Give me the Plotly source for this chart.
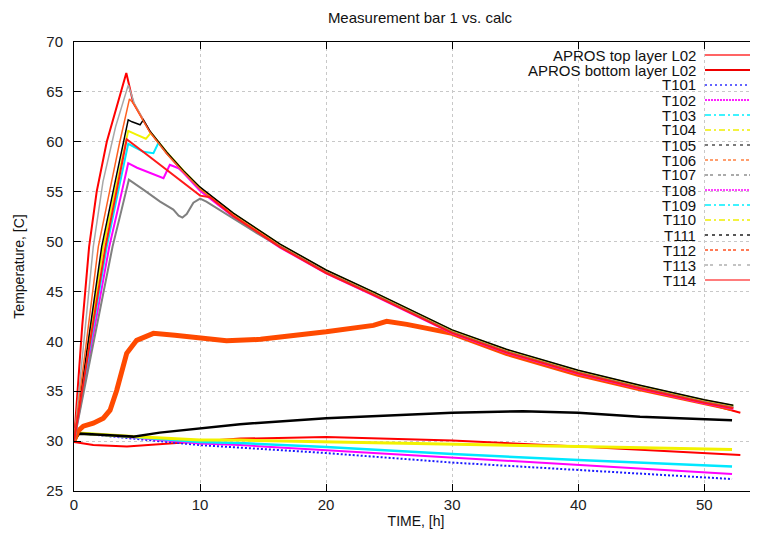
import plotly.graph_objects as go

# ---------------- data ----------------
APROS_TOP_X = [0, 0.65, 1.2, 1.8, 2.6, 3.6, 4.15, 4.7, 5.5, 6.03, 7.36, 8.68, 10, 12.64, 16.35, 20, 23.75, 30, 34.3, 40, 44.9, 50, 52.86]
APROS_TOP_Y = [30.0, 41.5, 49.5, 55.0, 60.0, 64.5, 66.9, 63.9, 62.2, 61.0, 58.85, 57.0, 55.3, 52.7, 49.6, 47.0, 44.8, 41.0, 39.05, 36.95, 35.4, 33.85, 32.85]

APROS_BOT_X = [0, 1.53, 4.2, 6.8, 10, 13.2, 20, 30, 40, 44.9, 52.86]
APROS_BOT_Y = [29.9, 29.6, 29.45, 29.7, 29.95, 30.25, 30.4, 30.05, 29.45, 29.1, 28.6]

LOW_X = [0, 0.4, 4.7, 10, 13.17, 20, 30, 40, 52.2]
T101_Y = [30.0, 30.8, 30.25, 29.6, 29.35, 28.8, 27.85, 27.1, 26.2]
T102_Y = [30.0, 30.8, 30.35, 29.75, 29.6, 29.1, 28.3, 27.6, 26.7]
T103_Y = [30.0, 30.8, 30.4, 29.9, 29.8, 29.4, 28.7, 28.1, 27.45]
T104_Y = [30.0, 30.8, 30.45, 30.1, 30.1, 29.95, 29.7, 29.45, 29.15]

T105_X = [0, 0.4, 2.5, 4.7, 6.8, 10, 13.17, 20, 25, 30, 35.6, 40, 44.9, 52.2]
T105_Y = [30.0, 30.75, 30.6, 30.45, 30.85, 31.3, 31.7, 32.3, 32.6, 32.85, 33.0, 32.85, 32.45, 32.1]

T106_X = [0, 0.3, 0.74, 1.53, 2.33, 2.86, 3.39, 3.78, 4.18, 4.97, 6.3, 8, 9.5, 12.1, 14.8, 17, 20, 23.75, 24.8, 26.4, 28, 30, 34.3, 40, 44.9, 50, 52.2]
T106_Y = [30.0, 31.0, 31.5, 31.8, 32.3, 33.1, 35.1, 37.1, 38.8, 40.1, 40.8, 40.6, 40.4, 40.05, 40.2, 40.5, 40.95, 41.6, 42.0, 41.7, 41.3, 40.8, 38.8, 36.7, 35.25, 33.8, 33.25]

# common tail of the upper bundle
TAIL_X = [12.64, 16.35, 20, 23.75, 30, 34.3, 40, 44.9, 50, 52.3]

T107_X = [0, 1.53, 2.3, 3.3, 4.31, 4.8, 5.5, 6.03, 7.36, 8.68, 10] + TAIL_X
T107_Y = [30.0, 49.5, 56.0, 61.5, 65.7, 63.8, 62.2, 61.0, 58.85, 57.0, 55.3,
          52.75, 49.65, 47.05, 44.85, 41.05, 39.1, 37.0, 35.5, 34.05, 33.5]

T108_X = [0, 2.8, 3.6, 4.3, 5.0, 6.0, 7.1, 7.6, 8.3, 8.68, 10] + TAIL_X
T108_Y = [30.0, 49.5, 53.9, 57.85, 57.4, 56.9, 56.35, 57.7, 57.35, 56.9, 55.1,
          52.5, 49.4, 46.8, 44.6, 40.8, 38.85, 36.75, 35.25, 33.8, 33.25]

T109_X = [0, 2.6, 3.5, 4.3, 5.5, 6.3, 6.7, 7.36, 8.68, 10] + TAIL_X
T109_Y = [30.0, 49.5, 55.0, 59.8, 59.0, 58.85, 59.9, 58.9, 57.05, 55.35,
          52.75, 49.65, 47.05, 44.85, 41.05, 39.1, 37.0, 35.5, 34.05, 33.5]

T110_X = [0, 2.33, 3.3, 4.3, 5.0, 5.7, 6.1, 7.36, 8.68, 10] + TAIL_X
T110_Y = [30.0, 49.5, 55.3, 61.1, 60.7, 60.3, 60.9, 58.95, 57.1, 55.4,
          52.8, 49.7, 47.1, 44.9, 41.1, 39.15, 37.05, 35.55, 34.1, 33.55]

T111_X = [0, 2.2, 3.2, 4.3, 4.6, 5.0, 5.24, 5.5, 6.03, 7.36, 8.68, 10] + TAIL_X
T111_Y = [30.0, 49.5, 55.6, 62.2, 62.0, 61.8, 61.7, 62.2, 61.05, 58.95, 57.1, 55.45,
          52.85, 49.75, 47.15, 44.95, 41.15, 39.2, 37.1, 35.6, 34.15, 33.6]

T112_X = [0, 1.93, 2.9, 3.6, 4.4, 4.8, 5.5, 6.03, 7.36, 8.68, 10] + TAIL_X
T112_Y = [30.0, 49.5, 55.5, 59.8, 64.3, 63.7, 62.1, 60.95, 58.8, 56.95, 55.25,
          52.65, 49.55, 46.95, 44.75, 40.95, 39.0, 36.9, 35.4, 33.95, 33.4]

T113_X = [0, 3.06, 3.7, 4.35, 5.5, 6.83, 7.88, 8.3, 8.6, 8.94, 9.47, 10, 10.5, 12.64, 14.5, 16.35, 20, 23.75, 30, 34.3, 40, 44.9, 50, 52.3]
T113_Y = [30.0, 49.5, 52.8, 56.2, 55.2, 54.0, 53.2, 52.6, 52.4, 52.75, 53.9, 54.3, 54.0, 52.3, 50.85, 49.5,
          46.9, 44.7, 40.9, 38.95, 36.85, 35.35, 33.9, 33.35]

T114_X = [0, 2.5, 3.4, 4.18, 6.0, 8.0, 10.0, 10.8] + TAIL_X
T114_Y = [30.0, 49.5, 55.2, 60.25, 58.5, 56.55, 54.6, 54.45,
          52.55, 49.45, 46.85, 44.65, 40.85, 38.9, 36.8, 35.3, 33.85, 33.3]

X_TICKS = [0, 10, 20, 30, 40, 50]
Y_TICKS = [25, 30, 35, 40, 45, 50, 55, 60, 65, 70]

# ---------------- series definitions ----------------
series = [
    ("APROS top layer L02", APROS_TOP_X, APROS_TOP_Y, "#ff0000", 2.0, "solid", "#ff3030", 1.5, "solid"),
    ("APROS bottom layer L02", APROS_BOT_X, APROS_BOT_Y, "#ff0000", 2.0, "solid", "#ee0000", 2.0, "solid"),
    ("T101", LOW_X, T101_Y, "#1a1aff", 2.0, "2px,2px", "#3030ff", 1.5, "2px,3px"),
    ("T102", LOW_X, T102_Y, "#ff00ff", 2.0, "solid", "#ff20ff", 2.0, "2px,1px"),
    ("T103", LOW_X, T103_Y, "#00e8ff", 2.5, "solid", "#00f0ff", 1.5, "6px,3px,2px,3px"),
    ("T104", LOW_X, T104_Y, "#f2f200", 3.0, "solid", "#f0f000", 1.5, "6px,3px,2px,3px"),
    ("T105", T105_X, T105_Y, "#000000", 2.5, "solid", "#505050", 1.5, "3px,4px"),
    ("T106", T106_X, T106_Y, "#ff4a00", 5.0, "solid", "#ff8040", 1.5, "3px,2px,3px,2px,3px,5px"),
    ("T107", T107_X, T107_Y, "#a8a8a8", 1.5, "solid", "#909090", 1.5, "3px,2px,3px,5px"),
    ("T108", T108_X, T108_Y, "#ff00ff", 2.0, "solid", "#ff40ff", 2.0, "2px,1px"),
    ("T109", T109_X, T109_Y, "#00e8ff", 2.0, "solid", "#00f0ff", 1.5, "6px,3px,2px,3px"),
    ("T110", T110_X, T110_Y, "#f2f200", 2.0, "solid", "#f0f000", 1.5, "6px,3px,2px,3px"),
    ("T111", T111_X, T111_Y, "#000000", 1.5, "solid", "#202020", 1.5, "3px,4px"),
    ("T112", T112_X, T112_Y, "#ff6020", 1.5, "solid", "#ff5020", 1.5, "3px,2px,3px,2px,3px,5px"),
    ("T113", T113_X, T113_Y, "#808080", 2.0, "solid", "#b0b0b0", 1.5, "3px,2px,3px,6px"),
    ("T114", T114_X, T114_Y, "#ff1a1a", 2.0, "solid", "#ff5050", 1.5, "solid"),
]

fig = go.Figure()
for name, xs, ys, col, w, dash, _, _, _ in series:
    fig.add_trace(go.Scatter(x=xs, y=ys, mode="lines", name=name,
                             line=dict(color=col, width=w, dash=dash),
                             showlegend=False))

# ---------------- layout geometry ----------------
# the page body has an 8px margin, so the figure is drawn 8px in from the corner
OFF = 8
W, H = 758 - OFF, 537 - OFF
L, R, T, B = 74 - OFF, 0, 42 - OFF, 46
pw, ph = W - L - R, H - T - B
FONT = "Liberation Sans, Arial, sans-serif"

def px_to_paper_x(page_px):
    return (page_px - OFF - L) / pw

def py_to_paper_y(page_py):
    return (H - B - (page_py - OFF)) / ph

# gnuplot-like legend: text right-aligned, sample line to its right
shapes = []
annotations = []
for i, (name, _, _, _, _, _, lcol, lw, ldash) in enumerate(series):
    py = 55 + 15 * i
    yy = py_to_paper_y(py)
    annotations.append(dict(x=px_to_paper_x(697), y=yy, xref="paper", yref="paper",
                            text=name, showarrow=False, xanchor="right", yanchor="middle",
                            borderpad=0,
                            font=dict(family=FONT, size=15, color="#111")))
    shapes.append(dict(type="line", xref="paper", yref="paper",
                       x0=px_to_paper_x(705), x1=px_to_paper_x(753), y0=yy, y1=yy,
                       line=dict(color=lcol, width=lw, dash=ldash)))

fig.update_layout(
    width=W, height=H,
    margin=dict(l=L, r=R, t=T, b=B),
    paper_bgcolor="white", plot_bgcolor="white",
    font=dict(family=FONT, size=15, color="#222"),
    title=dict(text="Measurement bar 1 vs. calc", x=(420 - OFF) / W,
               xanchor="center", y=1 - (18 - OFF) / H, yanchor="middle",
               font=dict(size=15, color="#111")),
    showlegend=False,
    shapes=shapes,
    annotations=annotations,
)
fig.update_xaxes(
    range=[0, pw / 12.606], tickvals=X_TICKS, ticktext=[str(v) for v in X_TICKS],
    showline=True, linecolor="#000", linewidth=1, mirror="allticks",
    ticks="inside", ticklen=7, tickcolor="#000", ticklabelstandoff=0,
    showgrid=True, gridcolor="#c8c8c8", griddash="dot", gridwidth=1,
    zeroline=False, automargin=False,
    title=dict(text="TIME, [h]", standoff=4, font=dict(size=14, color="#111")),
)
fig.update_yaxes(
    range=[25, 70], tickvals=Y_TICKS, ticktext=[str(v) for v in Y_TICKS],
    showline=True, linecolor="#000", linewidth=1, mirror=False,
    ticks="inside", ticklen=7, tickcolor="#000", ticklabelstandoff=7,
    showgrid=True, gridcolor="#c8c8c8", griddash="dot", gridwidth=1,
    zeroline=False, automargin=False,
    title=dict(text="Temperature, [C]", standoff=18, font=dict(size=14, color="#111")),
)

fig.write_html("out.html")
